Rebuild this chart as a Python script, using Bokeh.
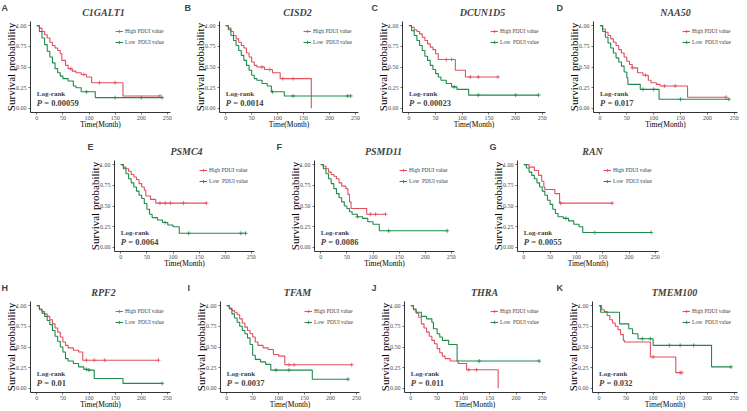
from bokeh.plotting import figure
from bokeh.layouts import row, column
from bokeh.models import (Range1d, Label, Legend, LegendItem, Spacer,
                          FixedTicker, NumeralTickFormatter)
from bokeh.embed import file_html
from bokeh.resources import INLINE

# ---------------- data ----------------
letters = ["A", "B", "C", "D", "E", "F", "G", "H", "I", "J", "K"]
genes = ["C1GALT1", "CISD2", "DCUN1D5", "NAA50", "PSMC4", "PSMD11", "RAN",
         "RPF2", "TFAM", "THRA", "TMEM100"]
pvalues = ["0.00059", "0.0014", "0.00023", "0.017", "0.0064", "0.0086",
           "0.0055", "0.01", "0.0037", "0.011", "0.032"]
x_ticks = [0, 50, 100, 150, 200, 250]
y_ticks = [0.0, 0.25, 0.5, 0.75, 1.0]
legend_labels = ["High PDUI value", "Low \u00a0PDUI value"]

# A  C1GALT1
c1galt1_high_t = [0, 5, 10, 15, 20, 25, 30, 35, 40, 45, 48, 55, 60, 68, 75, 85, 95, 105, 165, 236]
c1galt1_high_s = [1, 0.97, 0.93, 0.89, 0.85, 0.80, 0.76, 0.73, 0.70, 0.66, 0.58, 0.52, 0.48, 0.45, 0.43, 0.41, 0.38, 0.31, 0.15, 0.15]
c1galt1_high_c = [65, 90, 120, 150, 236]
c1galt1_low_t = [0, 5, 10, 15, 20, 25, 30, 35, 40, 45, 50, 60, 70, 75, 85, 112, 240]
c1galt1_low_s = [1, 0.93, 0.85, 0.77, 0.69, 0.62, 0.55, 0.48, 0.43, 0.39, 0.36, 0.33, 0.27, 0.25, 0.20, 0.13, 0.13]
c1galt1_low_c = [95, 150, 200, 240]

# B  CISD2
cisd2_high_t = [0, 5, 10, 15, 20, 25, 30, 35, 40, 45, 50, 55, 60, 75, 90, 105, 165]
cisd2_high_s = [1, 0.97, 0.93, 0.88, 0.84, 0.80, 0.76, 0.73, 0.67, 0.62, 0.56, 0.52, 0.50, 0.47, 0.43, 0.36, 0.0]
cisd2_high_c = [70, 85, 110, 130]
cisd2_low_t = [0, 5, 10, 15, 20, 25, 30, 35, 40, 45, 50, 55, 60, 70, 80, 88, 113, 241]
cisd2_low_s = [1, 0.95, 0.88, 0.82, 0.76, 0.70, 0.64, 0.58, 0.52, 0.46, 0.40, 0.36, 0.34, 0.30, 0.27, 0.20, 0.15, 0.15]
cisd2_low_c = [90, 130, 235, 241]

# C  DCUN1D5
dcun1d5_high_t = [0, 5, 10, 15, 20, 25, 30, 35, 40, 45, 50, 55, 87, 106, 167]
dcun1d5_high_s = [1, 0.98, 0.95, 0.93, 0.90, 0.86, 0.82, 0.78, 0.74, 0.71, 0.66, 0.59, 0.46, 0.38, 0.38]
dcun1d5_high_c = [70, 80, 115, 130, 167]
dcun1d5_low_t = [0, 5, 10, 15, 20, 25, 30, 35, 40, 45, 50, 55, 60, 70, 80, 90, 112, 243]
dcun1d5_low_s = [1, 0.94, 0.88, 0.82, 0.76, 0.70, 0.63, 0.58, 0.52, 0.47, 0.42, 0.38, 0.34, 0.30, 0.26, 0.23, 0.16, 0.16]
dcun1d5_low_c = [85, 130, 200, 243]

# D  NAA50
naa50_high_t = [0, 5, 10, 15, 20, 25, 30, 35, 40, 45, 50, 55, 60, 70, 80, 90, 95, 105, 112, 163, 235]
naa50_high_s = [1, 0.96, 0.92, 0.88, 0.84, 0.80, 0.76, 0.71, 0.67, 0.62, 0.57, 0.53, 0.49, 0.43, 0.40, 0.34, 0.31, 0.29, 0.27, 0.135, 0.135]
naa50_high_c = [60, 85, 120, 140, 235]
naa50_low_t = [0, 5, 10, 15, 20, 25, 30, 35, 40, 45, 50, 52, 75, 110, 240]
naa50_low_s = [1, 0.93, 0.86, 0.79, 0.73, 0.67, 0.61, 0.56, 0.51, 0.44, 0.37, 0.29, 0.23, 0.11, 0.11]
naa50_low_c = [80, 100, 150, 240]

# E  PSMC4
psmc4_high_t = [0, 5, 10, 15, 20, 25, 30, 35, 40, 45, 48, 57, 67, 164]
psmc4_high_s = [1, 0.97, 0.95, 0.92, 0.88, 0.85, 0.82, 0.77, 0.73, 0.69, 0.62, 0.58, 0.535, 0.535]
psmc4_high_c = [75, 85, 95, 120, 164]
psmc4_low_t = [0, 5, 10, 15, 20, 25, 30, 35, 40, 45, 50, 55, 60, 70, 80, 90, 100, 112, 239]
psmc4_low_s = [1, 0.95, 0.89, 0.83, 0.78, 0.73, 0.68, 0.63, 0.59, 0.53, 0.46, 0.40, 0.36, 0.33, 0.30, 0.27, 0.25, 0.17, 0.17]
psmc4_low_c = [85, 130, 230, 239]

# F  PSMD11
psmd11_high_t = [0, 5, 10, 15, 20, 25, 30, 35, 40, 48, 52, 55, 58, 88, 124]
psmd11_high_s = [1, 0.98, 0.95, 0.91, 0.88, 0.86, 0.83, 0.78, 0.74, 0.71, 0.64, 0.55, 0.47, 0.40, 0.40]
psmd11_high_c = [95, 105, 124]
psmd11_low_t = [0, 5, 10, 15, 20, 25, 30, 35, 40, 45, 50, 55, 60, 70, 80, 90, 100, 112, 242]
psmd11_low_s = [1, 0.95, 0.89, 0.83, 0.77, 0.71, 0.65, 0.60, 0.55, 0.50, 0.47, 0.43, 0.40, 0.37, 0.35, 0.31, 0.28, 0.20, 0.20]
psmd11_low_c = [70, 130, 242]

# G  RAN
ran_high_t = [0, 10, 20, 28, 34, 38, 40, 59, 68, 168]
ran_high_s = [1, 0.97, 0.93, 0.87, 0.80, 0.73, 0.70, 0.65, 0.535, 0.535]
ran_high_c = [70, 168]
ran_low_t = [0, 5, 10, 15, 20, 25, 30, 35, 40, 45, 50, 55, 60, 65, 75, 85, 95, 105, 112, 242]
ran_low_s = [1, 0.96, 0.91, 0.87, 0.83, 0.78, 0.73, 0.68, 0.63, 0.57, 0.52, 0.46, 0.41, 0.37, 0.35, 0.32, 0.28, 0.25, 0.18, 0.18]
ran_low_c = [80, 135, 242]

# H  RPF2
rpf2_high_t = [0, 5, 10, 15, 20, 25, 30, 35, 40, 45, 50, 55, 60, 70, 80, 88, 233]
rpf2_high_s = [1, 0.96, 0.93, 0.90, 0.87, 0.83, 0.78, 0.73, 0.68, 0.62, 0.56, 0.52, 0.49, 0.46, 0.44, 0.34, 0.34]
rpf2_high_c = [95, 110, 130, 233]
rpf2_low_t = [0, 5, 10, 15, 20, 25, 30, 35, 40, 45, 50, 55, 60, 70, 80, 90, 100, 110, 165, 240]
rpf2_low_s = [1, 0.95, 0.91, 0.87, 0.82, 0.77, 0.70, 0.63, 0.57, 0.50, 0.44, 0.36, 0.33, 0.30, 0.26, 0.23, 0.22, 0.12, 0.06, 0.06]
rpf2_low_c = [95, 100, 240]

# I  TFAM
tfam_high_t = [0, 5, 10, 15, 20, 25, 30, 35, 40, 45, 50, 55, 60, 70, 80, 90, 100, 112, 241]
tfam_high_s = [1, 0.97, 0.94, 0.92, 0.89, 0.84, 0.79, 0.74, 0.70, 0.66, 0.62, 0.56, 0.52, 0.49, 0.47, 0.41, 0.39, 0.285, 0.285]
tfam_high_c = [120, 130, 241]
tfam_low_t = [0, 5, 10, 15, 20, 25, 30, 35, 40, 45, 50, 55, 65, 75, 85, 165, 234]
tfam_low_s = [1, 0.96, 0.90, 0.85, 0.80, 0.75, 0.70, 0.66, 0.61, 0.53, 0.40, 0.35, 0.32, 0.29, 0.22, 0.11, 0.11]
tfam_low_c = [95, 120, 234]

# J  THRA
thra_high_t = [0, 5, 10, 15, 20, 25, 30, 35, 40, 45, 50, 55, 60, 65, 75, 90, 106, 166]
thra_high_s = [1, 0.95, 0.91, 0.86, 0.78, 0.73, 0.68, 0.63, 0.58, 0.54, 0.48, 0.43, 0.39, 0.36, 0.33, 0.30, 0.225, 0.0]
thra_high_c = [110, 125]
thra_low_t = [0, 5, 10, 20, 30, 40, 43, 50, 55, 60, 72, 88, 244]
thra_low_s = [1, 0.96, 0.92, 0.87, 0.84, 0.80, 0.72, 0.66, 0.62, 0.58, 0.53, 0.33, 0.33]
thra_low_c = [130, 244]

# K  TMEM100
tmem100_high_t = [0, 5, 10, 15, 20, 25, 30, 35, 40, 45, 47, 95, 142, 153]
tmem100_high_s = [1, 0.95, 0.93, 0.88, 0.83, 0.79, 0.75, 0.71, 0.65, 0.58, 0.56, 0.38, 0.19, 0.19]
tmem100_high_c = [100, 150, 153]
tmem100_low_t = [0, 3, 38, 55, 62, 72, 100, 208, 244]
tmem100_low_s = [1, 0.92, 0.78, 0.72, 0.66, 0.60, 0.52, 0.26, 0.26]
tmem100_low_c = [80, 95, 130, 150, 175, 244]

curves = [
    (c1galt1_high_t, c1galt1_high_s, c1galt1_high_c, c1galt1_low_t, c1galt1_low_s, c1galt1_low_c),
    (cisd2_high_t, cisd2_high_s, cisd2_high_c, cisd2_low_t, cisd2_low_s, cisd2_low_c),
    (dcun1d5_high_t, dcun1d5_high_s, dcun1d5_high_c, dcun1d5_low_t, dcun1d5_low_s, dcun1d5_low_c),
    (naa50_high_t, naa50_high_s, naa50_high_c, naa50_low_t, naa50_low_s, naa50_low_c),
    (psmc4_high_t, psmc4_high_s, psmc4_high_c, psmc4_low_t, psmc4_low_s, psmc4_low_c),
    (psmd11_high_t, psmd11_high_s, psmd11_high_c, psmd11_low_t, psmd11_low_s, psmd11_low_c),
    (ran_high_t, ran_high_s, ran_high_c, ran_low_t, ran_low_s, ran_low_c),
    (rpf2_high_t, rpf2_high_s, rpf2_high_c, rpf2_low_t, rpf2_low_s, rpf2_low_c),
    (tfam_high_t, tfam_high_s, tfam_high_c, tfam_low_t, tfam_low_s, tfam_low_c),
    (thra_high_t, thra_high_s, thra_high_c, thra_low_t, thra_low_s, thra_low_c),
    (tmem100_high_t, tmem100_high_s, tmem100_high_c, tmem100_low_t, tmem100_low_s, tmem100_low_c),
]

# ---------------- style / layout ----------------
RED = "#E0505F"
GREEN = "#1F8A4C"
SERIF = "Liberation Serif"
PAGE_W = 747
HEAD_H = 21      # strip holding the panel letters and gene titles
PANEL_H = 110    # plot panel below each strip

# header text positions (pixels) for each row: (letter left edge, gene title centre)
row_specs = [
    # (panel index, left border, right border, width)
    [(0, 30, 15, 185), (1, 34, 12, 185), (2, 32, 10, 185), (3, 38, 10, 192)],
    [(4, 30, 30, 200), (5, 30, 33, 203), (6, 30, 12, 183)],
    [(7, 30, 15, 185), (8, 35, 12, 186), (9, 33, 10, 184), (10, 37, 10, 192)],
]
row_offsets = [0, 84, 0]
letter_px = [1, 184, 371, 556, 87, 276, 489, 1, 187, 371, 556]
gene_px = [103, 297, 482, 675, 186, 383, 592, 103, 297, 484, 674]


def km_value(ts, ss, t):
    v = ss[0]
    for tt, s in zip(ts, ss):
        if tt <= t:
            v = s
    return v


def header(indices):
    h = figure(width=PAGE_W, height=HEAD_H, x_range=Range1d(0, PAGE_W),
               y_range=Range1d(HEAD_H, 0), output_backend="svg", toolbar_location=None,
               min_border=0)
    h.axis.visible = False
    h.grid.visible = False
    h.outline_line_color = None
    for i in indices:
        h.add_layout(Label(x=letter_px[i], y=7, text=letters[i], text_font="Liberation Sans",
                           text_font_style="bold", text_font_size="9px",
                           text_baseline="middle", text_align="left"))
        h.add_layout(Label(x=gene_px[i], y=12, text=genes[i], text_font=SERIF,
                           text_font_style="bold italic", text_font_size="10px",
                           text_baseline="middle", text_align="center"))
    return h


def panel(i, L, R, W):
    ht, hs, hc, lt, ls, lc = curves[i]
    p = figure(width=W, height=PANEL_H, x_range=Range1d(-12, 256), y_range=Range1d(-0.05, 1.05),
               output_backend="svg", toolbar_location=None,
               min_border_left=L, min_border_right=R, min_border_top=0, min_border_bottom=0)
    p.outline_line_color = None
    p.xgrid.visible = False
    p.ygrid.visible = False
    p.xaxis.ticker = FixedTicker(ticks=x_ticks)
    p.yaxis.ticker = FixedTicker(ticks=y_ticks)
    p.yaxis.formatter = NumeralTickFormatter(format="0.00")
    for ax in (p.xaxis[0], p.yaxis[0]):
        ax.axis_line_color = "black"
        ax.axis_line_width = 0.8
        ax.major_tick_line_color = "#333333"
        ax.major_tick_line_width = 0.7
        ax.major_tick_in = 0
        ax.major_tick_out = 2
        ax.minor_tick_line_color = None
        ax.major_label_text_font = SERIF
        ax.major_label_text_font_size = "6px"
        ax.major_label_text_color = "#4D4D4D"
        ax.axis_label_text_font = SERIF
        ax.axis_label_text_font_style = "normal"
        ax.axis_label_text_color = "black"
    p.xaxis.major_label_standoff = 1
    p.xaxis.axis_label = "Time(Month)"
    p.xaxis.axis_label_text_font_size = "7.5px"
    p.xaxis.axis_label_standoff = -3
    p.yaxis.major_label_standoff = 2
    p.yaxis.axis_label = "Survival probability"
    p.yaxis.axis_label_text_font_size = "11px"
    p.yaxis.axis_label_standoff = -4

    rh = p.step(ht, hs, mode="after", line_color=RED, line_width=1.1)
    ch = p.scatter(hc, [km_value(ht, hs, t) for t in hc], marker="cross", size=4,
                   line_color=RED, line_width=0.8)
    rl = p.step(lt, ls, mode="after", line_color=GREEN, line_width=1.1)
    cl = p.scatter(lc, [km_value(lt, ls, t) for t in lc], marker="cross", size=4,
                   line_color=GREEN, line_width=0.8)

    leg = Legend(items=[LegendItem(label=legend_labels[0], renderers=[rh, ch]),
                        LegendItem(label=legend_labels[1], renderers=[rl, cl])],
                 location="top_right",
                 label_text_font=SERIF, label_text_font_size="5.5px",
                 glyph_width=8, glyph_height=8, label_height=8, label_standoff=2,
                 spacing=3, padding=0, margin=6,
                 border_line_color=None, background_fill_alpha=0)
    p.add_layout(leg)

    p.add_layout(Label(x=0, y=0.175, text="Log-rank", text_font=SERIF,
                       text_font_style="bold", text_font_size="7px",
                       text_baseline="middle", text_align="left"))
    p.add_layout(Label(x=0, y=0.06, text="P", text_font=SERIF,
                       text_font_style="bold italic", text_font_size="8.5px",
                       text_baseline="middle", text_align="left"))
    p.add_layout(Label(x=0, y=0.06, x_offset=7.5, text="= " + pvalues[i], text_font=SERIF,
                       text_font_style="bold", text_font_size="8.5px",
                       text_baseline="middle", text_align="left"))
    return p


blocks = []
for k, specs in enumerate(row_specs):
    figs = [panel(*s) for s in specs]
    if row_offsets[k]:
        figs = [Spacer(width=row_offsets[k], height=PANEL_H)] + figs
    blocks.append(header([s[0] for s in specs]))
    blocks.append(row(*figs, spacing=0))
    if k == 0:
        blocks.append(Spacer(height=8))
    elif k == 1:
        blocks.append(Spacer(height=10))

layout = column(*blocks, spacing=0)

open("out.html", "w").write(file_html(layout, INLINE))
